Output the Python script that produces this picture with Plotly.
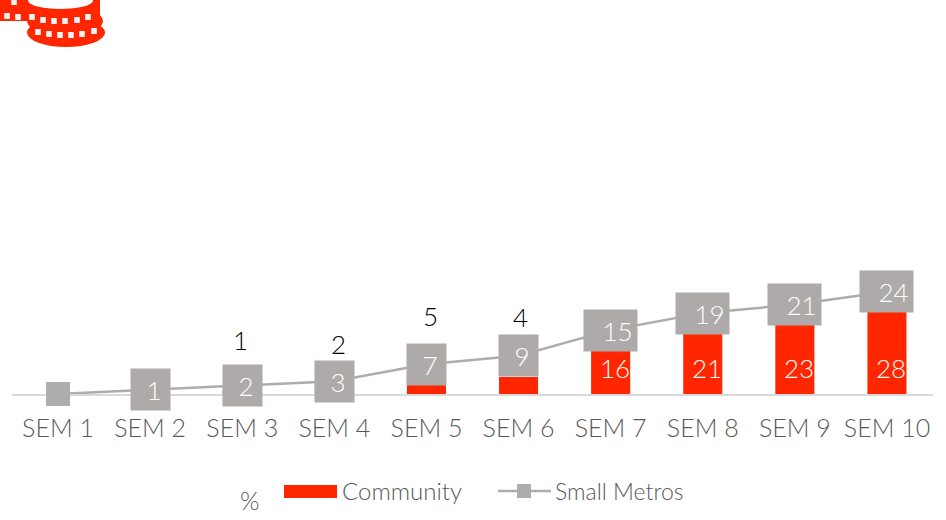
import plotly.graph_objects as go

categories = ["SEM 1", "SEM 2", "SEM 3", "SEM 4", "SEM 5", "SEM 6", "SEM 7", "SEM 8", "SEM 9", "SEM 10"]
community = [0, 0, 1, 2, 5, 4, 16, 21, 23, 28]
small_metros = [0, 1, 2, 3, 7, 9, 15, 19, 21, 24]

W, H = 946, 520
L, R, T, B = 12, 13, 0, 126
FONT = "Lato Light, Lato, sans-serif"
RED = "#FF2600"
GREY = "#AEAAAA"
TXT = "#595959"


def px(x):
    return (x - L) / (W - L - R)


def py(y):
    return (H - B - y) / (H - B - T)


fig = go.Figure()
fig.add_bar(x=categories, y=community, marker=dict(color=RED, line_width=0), width=0.424,
            name="Community", showlegend=False)
fig.add_scatter(x=categories, y=small_metros, mode="lines+markers", name="Small Metros", showlegend=False,
                cliponaxis=False,
                line=dict(color="#ADADAD", width=2.5), marker=dict(symbol="square", size=24, color="#ADADAD"))

ann = []
# Grey value boxes on the line
for c, v in zip(categories, small_metros):
    if v == 0:
        continue
    s = str(v)
    ann.append(dict(x=c, y=v, xref="x", yref="y", text="\u00a0" * len(s) + s, showarrow=False,
                    width=39 if len(s) == 1 else 53, height=41, bgcolor=GREY, borderpad=0,
                    font=dict(family=FONT, size=26, color="white"), align="center", valign="middle"))

# Community labels: white at the bar base when large, black above the box when small
label_lift = [None, None, 45, 37, 48, 39]
label_shift = [0, 0, -2, 4, 4, 2]
for i, (c, v) in enumerate(zip(categories, community)):
    if v == 0:
        continue
    if v >= 10:
        ann.append(dict(x=c, y=0, xref="x", yref="y", text=str(v), showarrow=False, yshift=26, xshift=4,
                        yanchor="middle", xanchor="center",
                        font=dict(family=FONT, size=26, color="white")))
    else:
        ann.append(dict(x=c, y=small_metros[i], xref="x", yref="y", text=str(v), showarrow=False,
                        yshift=label_lift[i], xshift=label_shift[i], yanchor="middle", xanchor="center",
                        font=dict(family=FONT, size=26, color="black")))

# Legend row
ann += [
    dict(x=px(250), y=py(500), xref="paper", yref="paper", text="%", showarrow=False,
         xanchor="center", yanchor="middle", font=dict(family=FONT, size=25, color=TXT)),
    dict(x=px(342), y=py(491), xref="paper", yref="paper", text="Community", xanchor="left", yanchor="middle",
         showarrow=False, font=dict(family=FONT, size=24, color=TXT), xshift=-2),
    dict(x=px(555), y=py(491), xref="paper", yref="paper", text="Small Metros", xanchor="left", yanchor="middle",
         showarrow=False, font=dict(family=FONT, size=23, color=TXT), xshift=-2),
]


def rect(x0, y0, x1, y1, color):
    return dict(type="rect", xref="paper", yref="paper", x0=px(x0), x1=px(x1), y0=py(y0), y1=py(y1),
                fillcolor=color, line_width=0, layer="above")


def ellipse(x0, y0, x1, y1, color):
    return dict(type="circle", xref="paper", yref="paper", x0=px(x0), x1=px(x1), y0=py(y0), y1=py(y1),
                fillcolor=color, line_width=0, layer="above")


shapes = [
    rect(284, 485, 337, 498, RED),
    dict(type="line", xref="paper", yref="paper", x0=px(498), x1=px(551), y0=py(491), y1=py(491),
         line=dict(color="#ADADAD", width=2.5), layer="above"),
    rect(517, 484, 531, 498, "#ADADAD"),
]

# Coin icon, cropped by the top-left corner of the page
shapes += [
    rect(0, -5, 32, 21, RED),
    rect(27, -5, 100, 20, RED),
    ellipse(27, 18, 105, 47, RED),
    ellipse(27, 6, 103, 36, RED),
    ellipse(28, -8, 93, 9, "white"),
]
for x, y in [(7, 16), (18, 17), (14, 2), (32, 17), (43, 20), (54, 21), (65, 21), (77, 20), (88, 17),
             (38, 32), (49, 34), (60, 35), (71, 35), (82, 34), (94, 31)]:
    shapes.append(rect(x - 2.8, y - 3, x + 2.8, y + 3, "#F2F2F2"))

fig.update_layout(
    width=W, height=H, autosize=False,
    margin=dict(l=L, r=R, t=T, b=B, autoexpand=False),
    paper_bgcolor="white", plot_bgcolor="white", barmode="overlay",
    showlegend=False, annotations=ann, shapes=shapes,
    xaxis=dict(type="category", categoryorder="array", categoryarray=categories, range=[-0.5, 9.5],
               showgrid=False, zeroline=False, showline=True, linecolor="#D9D9D9", linewidth=2,
               layer="below traces",
               ticks="outside", ticklen=11, tickcolor="rgba(0,0,0,0)",
               tickfont=dict(family=FONT, size=25, color=TXT)),
    yaxis=dict(range=[0, 92.5], visible=False),
)
fig.write_html("out.html", config={"displayModeBar": False},
               post_script="document.body.style.margin='0';document.body.style.overflow='hidden';")
